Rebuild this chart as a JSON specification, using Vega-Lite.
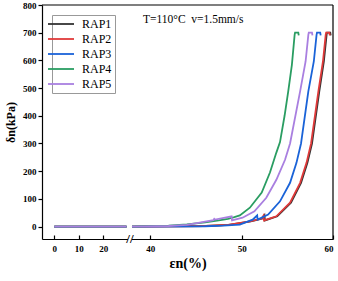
{
  "$schema": "https://vega.github.io/schema/vega-lite/v6.json",
  "width": 291,
  "height": 234,
  "autosize": "none",
  "padding": {"left": 42, "top": 5, "right": 5, "bottom": 42},
  "config": {
    "view": {"stroke": null},
    "font": "Liberation Serif",
    "axis": {"grid": false, "domainColor": "#000", "tickColor": "#000", "labelColor": "#000", "titleColor": "#000", "labelFont": "Liberation Serif", "titleFont": "Liberation Serif", "labelFontWeight": "bold", "labelFontSize": 9, "labelOverlap": false, "domainWidth": 1.2, "tickWidth": 1.2}
  },
  "datasets": {
    "curves": [
      {"s":"RAP1","g":"L","x":0,"y":0},{"s":"RAP1","g":"L","x":29.5,"y":0},
      {"s":"RAP1","g":"R","x":38,"y":0},{"s":"RAP1","g":"R","x":46.1,"y":2},{"s":"RAP1","g":"R","x":48.6,"y":6},{"s":"RAP1","g":"R","x":51,"y":19},{"s":"RAP1","g":"R","x":52.3,"y":29},{"s":"RAP1","g":"R","x":52.5,"y":40},{"s":"RAP1","g":"R","x":52.55,"y":22},{"s":"RAP1","g":"R","x":53.9,"y":37},{"s":"RAP1","g":"R","x":55.4,"y":86},{"s":"RAP1","g":"R","x":56.5,"y":158},{"s":"RAP1","g":"R","x":57.2,"y":230},{"s":"RAP1","g":"R","x":57.7,"y":300},{"s":"RAP1","g":"R","x":58.5,"y":488},{"s":"RAP1","g":"R","x":59,"y":596},{"s":"RAP1","g":"R","x":59.3,"y":692},{"s":"RAP1","g":"R","x":59.35,"y":700},{"s":"RAP1","g":"R","x":59.7,"y":700},{"s":"RAP1","g":"R","x":59.75,"y":690},
      {"s":"RAP2","g":"L","x":0,"y":0},{"s":"RAP2","g":"L","x":29.5,"y":0},
      {"s":"RAP2","g":"R","x":38,"y":0},{"s":"RAP2","g":"R","x":46,"y":2},{"s":"RAP2","g":"R","x":48.5,"y":6},{"s":"RAP2","g":"R","x":50.9,"y":19},{"s":"RAP2","g":"R","x":52.2,"y":29},{"s":"RAP2","g":"R","x":52.4,"y":40},{"s":"RAP2","g":"R","x":52.45,"y":22},{"s":"RAP2","g":"R","x":53.8,"y":37},{"s":"RAP2","g":"R","x":55.3,"y":86},{"s":"RAP2","g":"R","x":56.4,"y":158},{"s":"RAP2","g":"R","x":57.1,"y":230},{"s":"RAP2","g":"R","x":57.6,"y":300},{"s":"RAP2","g":"R","x":58.4,"y":488},{"s":"RAP2","g":"R","x":58.9,"y":596},{"s":"RAP2","g":"R","x":59.2,"y":692},{"s":"RAP2","g":"R","x":59.25,"y":700},{"s":"RAP2","g":"R","x":59.6,"y":700},{"s":"RAP2","g":"R","x":59.65,"y":690},
      {"s":"RAP3","g":"L","x":0,"y":0},{"s":"RAP3","g":"L","x":29.5,"y":0},
      {"s":"RAP3","g":"R","x":38,"y":0},{"s":"RAP3","g":"R","x":46,"y":1},{"s":"RAP3","g":"R","x":48,"y":3},{"s":"RAP3","g":"R","x":49.8,"y":7},{"s":"RAP3","g":"R","x":51.2,"y":25},{"s":"RAP3","g":"R","x":51.7,"y":40},{"s":"RAP3","g":"R","x":51.75,"y":25},{"s":"RAP3","g":"R","x":52.9,"y":43},{"s":"RAP3","g":"R","x":54.2,"y":91},{"s":"RAP3","g":"R","x":55.3,"y":158},{"s":"RAP3","g":"R","x":56,"y":230},{"s":"RAP3","g":"R","x":56.5,"y":300},{"s":"RAP3","g":"R","x":57.3,"y":488},{"s":"RAP3","g":"R","x":57.9,"y":596},{"s":"RAP3","g":"R","x":58.2,"y":692},{"s":"RAP3","g":"R","x":58.25,"y":700},{"s":"RAP3","g":"R","x":58.6,"y":700},{"s":"RAP3","g":"R","x":58.65,"y":690},
      {"s":"RAP4","g":"L","x":0,"y":0},{"s":"RAP4","g":"L","x":29.5,"y":0},
      {"s":"RAP4","g":"R","x":38,"y":0},{"s":"RAP4","g":"R","x":42,"y":3},{"s":"RAP4","g":"R","x":44,"y":8},{"s":"RAP4","g":"R","x":46,"y":15},{"s":"RAP4","g":"R","x":47.5,"y":22},{"s":"RAP4","g":"R","x":48.5,"y":28},{"s":"RAP4","g":"R","x":49.2,"y":34},{"s":"RAP4","g":"R","x":49.8,"y":40},{"s":"RAP4","g":"R","x":50.9,"y":68},{"s":"RAP4","g":"R","x":52.2,"y":123},{"s":"RAP4","g":"R","x":53.1,"y":195},{"s":"RAP4","g":"R","x":53.8,"y":267},{"s":"RAP4","g":"R","x":54.2,"y":305},{"s":"RAP4","g":"R","x":54.7,"y":400},{"s":"RAP4","g":"R","x":55.1,"y":488},{"s":"RAP4","g":"R","x":55.5,"y":584},{"s":"RAP4","g":"R","x":55.8,"y":692},{"s":"RAP4","g":"R","x":55.85,"y":700},{"s":"RAP4","g":"R","x":56.2,"y":700},{"s":"RAP4","g":"R","x":56.25,"y":690},
      {"s":"RAP5","g":"L","x":0,"y":0},{"s":"RAP5","g":"L","x":29.5,"y":0},
      {"s":"RAP5","g":"R","x":38,"y":0},{"s":"RAP5","g":"R","x":42,"y":2},{"s":"RAP5","g":"R","x":44,"y":6},{"s":"RAP5","g":"R","x":45.4,"y":14},{"s":"RAP5","g":"R","x":46.9,"y":23},{"s":"RAP5","g":"R","x":47,"y":28},{"s":"RAP5","g":"R","x":47.1,"y":25},{"s":"RAP5","g":"R","x":48.9,"y":37},{"s":"RAP5","g":"R","x":48.95,"y":22},{"s":"RAP5","g":"R","x":50.1,"y":32},{"s":"RAP5","g":"R","x":51.4,"y":55},{"s":"RAP5","g":"R","x":52.7,"y":104},{"s":"RAP5","g":"R","x":53.8,"y":169},{"s":"RAP5","g":"R","x":54.75,"y":241},{"s":"RAP5","g":"R","x":55.3,"y":300},{"s":"RAP5","g":"R","x":56.4,"y":488},{"s":"RAP5","g":"R","x":57,"y":596},{"s":"RAP5","g":"R","x":57.3,"y":692},{"s":"RAP5","g":"R","x":57.35,"y":700},{"s":"RAP5","g":"R","x":57.7,"y":700},{"s":"RAP5","g":"R","x":57.75,"y":690}
    ]
  },
  "encoding": {
    "x": {"field": "x", "type": "quantitative", "scale": {"domain": [-5, 30, 38, 60], "range": [0, 85.75, 90, 291], "nice": false, "zero": false},
      "axis": {"values": [0, 10, 20, 40, 50, 60], "labelOverlap": false, "tickSize": -4, "labelPadding": 9, "title": "εn(%)", "titleFontSize": 14, "titleFontWeight": "bold", "titlePadding": 3}},
    "y": {"field": "y", "type": "quantitative", "scale": {"domain": [-45, 800], "nice": false, "zero": false},
      "axis": {"values": [0, 100, 200, 300, 400, 500, 600, 700, 800], "tickCount": 9, "labelOverlap": false, "labelFlush": false, "tickSize": 4, "labelPadding": 2, "title": "δn(kPa)", "titleFontSize": 12, "titleFontWeight": "bold", "titlePadding": 5}}
  },
  "layer": [
    {
      "data": {"name": "curves"},
      "mark": {"type": "line", "strokeWidth": 1.8, "clip": true},
      "encoding": {
        "color": {"field": "s", "type": "nominal", "scale": {"domain": ["RAP1", "RAP2", "RAP3", "RAP4", "RAP5"], "range": ["#333333", "#e03a3a", "#1a63d8", "#2a9d62", "#a97fe0"]},
          "legend": {"title": null, "orient": "none", "legendX": 10, "legendY": 10, "symbolType": "M-2.6,0H2.6", "symbolSize": 100, "symbolStrokeWidth": 1.8, "labelFontSize": 12, "labelFont": "Liberation Serif", "labelColor": "#000", "strokeColor": "#999", "fillColor": "#fff", "padding": 3, "rowPadding": 3, "labelOffset": 15}},
        "detail": {"field": "g"}
      }
    },
    {
      "data": {"values": [{"x": 30.3, "x2": 37.7, "y": -52, "y2": -40}]},
      "mark": {"type": "rect", "fill": "#fff", "clip": false},
      "encoding": {"x2": {"field": "x2"}, "y2": {"field": "y2"}}
    },
    {
      "data": {"values": [{"x": 34, "y": -45, "t": "//"}]},
      "mark": {"type": "text", "fontSize": 13, "fontWeight": "bold", "font": "Liberation Serif", "baseline": "middle", "align": "center", "color": "#000", "clip": false},
      "encoding": {"text": {"field": "t"}}
    },
    {
      "data": {"values": [{"x": -5, "x2": 60, "y": 800, "y2": 800}, {"x": 60, "x2": 60, "y": -45, "y2": 800}]},
      "mark": {"type": "rule", "color": "#000", "strokeWidth": 1.2},
      "encoding": {"x2": {"field": "x2"}, "y2": {"field": "y2"}}
    },
    {
      "data": {"values": [{"x": 44.7, "y": 746, "t": "T=110°C\u00a0\u00a0v=1.5mm/s"}]},
      "mark": {"type": "text", "fontSize": 11.5, "font": "Liberation Serif", "baseline": "middle", "align": "center", "color": "#000"},
      "encoding": {"text": {"field": "t"}}
    }
  ]
}
